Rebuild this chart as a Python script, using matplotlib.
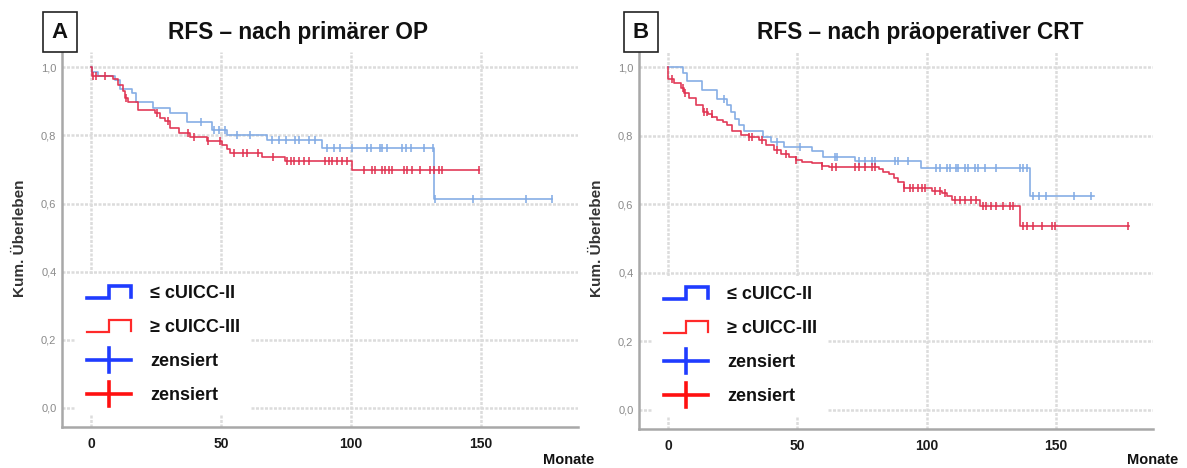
import numpy as np
import matplotlib
matplotlib.use("Agg")
import matplotlib.pyplot as plt
from matplotlib.lines import Line2D
from matplotlib.legend_handler import HandlerBase
from matplotlib.ticker import FuncFormatter

plt.rcParams['font.family'] = ['Liberation Sans', 'DejaVu Sans']

# ---- panel A: nach primaerer OP ----
a_blue_t = [0.5, 2.8, 9.3, 11.2, 15.7, 17.4, 24, 30.5, 36.9, 46.5, 52.3, 67.7, 88.9, 132]
a_blue_s = [0.986, 0.976, 0.963, 0.935, 0.926, 0.898, 0.882, 0.867, 0.84, 0.815, 0.80, 0.786, 0.764, 0.612]
a_blue_end = 177.6
a_blue_cens = [42.4, 47.2, 49.3, 51.7, 56.2, 61.3, 69.6, 72.2, 75, 78.6, 79.9, 83.8, 86.4,
               90.9, 93.4, 96, 100.5, 106.3, 107.6, 111.4, 112.1, 114, 119.8, 121.1, 123,
               128.1, 131.5, 132.5, 147.1, 167.3, 177.6]

a_red_t = [0.3, 8.6, 10.5, 12.4, 13.1, 14.1, 18.2, 24.7, 26.6, 28.5, 30.5, 33.7, 38.2,
           44.6, 50.4, 52.3, 53.6, 65.8, 74.8, 100.5]
a_red_s = [0.975, 0.965, 0.947, 0.93, 0.91, 0.898, 0.875, 0.867, 0.852, 0.842, 0.822, 0.808,
           0.796, 0.783, 0.771, 0.761, 0.749, 0.737, 0.724, 0.698]
a_red_end = 149.3
a_red_cens = [0.9, 1.8, 5.4, 13.5, 25.2, 29.6, 37.3, 39.5, 45.2, 49.6, 55.1, 58.6, 59.9, 64.4,
              70.2, 75.5, 77, 78, 79.9, 81.8, 83.8, 90.2, 91.5, 92.8, 94.7, 96.6, 98.6,
              105, 108.2, 109.5, 112.1, 113.3, 114.6, 115.9, 120.4, 121.7, 123.6, 126.8,
              130.7, 132, 133.9, 135.2, 149.3]

# ---- panel B: nach praeoperativer CRT ----
b_blue_t = [5.8, 7.5, 13, 18.8, 22.8, 24.3, 25.8, 27.3, 29.2, 36.6, 39.7, 44.8, 55.8, 59.8,
            72.4, 97.8, 139.8]
b_blue_s = [0.985, 0.96, 0.933, 0.908, 0.89, 0.87, 0.85, 0.832, 0.813, 0.796, 0.783, 0.769,
            0.757, 0.739, 0.726, 0.705, 0.625]
b_blue_end = 164.8
b_blue_cens = [21.7, 42.3, 51.2, 64.7, 65.3, 73.7, 76.2, 78.8, 80.1, 87.8, 89.1, 92.9, 103.8,
               105.1, 107.7, 109, 111.5, 112.2, 114.7, 116, 118.6, 119.9, 122.5, 127, 136,
               137.3, 138.6, 141.1, 143.6, 146.2, 157.1, 163.5]

b_red_t = [0.2, 2.4, 5, 6.3, 8.2, 10.8, 13.4, 15.3, 17.2, 19.1, 21.1, 23, 24.9, 28.1, 31.3,
           35.2, 37.8, 41, 43.6, 46.8, 49.4, 52, 55.8, 59.7, 62.2, 81.4, 83.3, 85.3, 87.2,
           89.1, 91.1, 102, 105.9, 107.8, 109.8, 120.6, 136.2]
b_red_s = [0.967, 0.955, 0.94, 0.925, 0.911, 0.891, 0.871, 0.864, 0.855, 0.847, 0.842, 0.832,
           0.813, 0.803, 0.796, 0.788, 0.774, 0.759, 0.747, 0.739, 0.731, 0.724, 0.72, 0.712,
           0.708, 0.702, 0.695, 0.688, 0.678, 0.666, 0.649, 0.639, 0.633, 0.624, 0.612,
           0.594, 0.538]
b_red_end = 178.2
b_red_cens = [1.5, 6, 6.5, 14, 15, 17, 31.3, 32.6, 36.5, 42.3, 45.6, 49.4, 59.7, 63.5, 64.8,
              72.4, 73.7, 76.2, 78.8, 80, 91.1, 93.6, 94.9, 96.8, 98.1, 99.4, 103.4, 105.3,
              107.1, 111, 113, 115, 117, 119, 121.8, 123.1, 125, 127, 129.5, 132.1, 133.4,
              137.3, 138.6, 141.1, 144.4, 148.3, 149.5, 177.7]

titles = ["RFS \u2013 nach primärer OP", "RFS \u2013 nach präoperativer CRT"]
panel_letters = ["A", "B"]
legend_labels = ["\u2264 cUICC-II", "\u2265 cUICC-III", "zensiert", "zensiert"]
y_ticks = [0.0, 0.2, 0.4, 0.6, 0.8, 1.0]
x_ticks = [0, 50, 100, 150]

BLUE = "#80aae4"
RED = "#e0304f"


class StepHandler(HandlerBase):
    def create_artists(self, legend, orig_handle, xdescent, ydescent, width, height, fontsize, trans):
        x0, y0 = -xdescent, -ydescent
        xs = [x0, x0 + 0.5 * width, x0 + 0.5 * width, x0 + width, x0 + width]
        ys = [y0, y0, y0 + height, y0 + height, y0 + 0.05 * height]
        ln = Line2D(xs, ys, color=orig_handle.get_color(), lw=orig_handle.get_linewidth(),
                    transform=trans, solid_joinstyle='miter')
        return [ln]


class CrossHandler(HandlerBase):
    def create_artists(self, legend, orig_handle, xdescent, ydescent, width, height, fontsize, trans):
        x0, y0 = -xdescent, -ydescent
        c = orig_handle.get_color()
        lw = orig_handle.get_linewidth()
        h = Line2D([x0, x0 + width], [y0 + height / 2] * 2, color=c, lw=lw, transform=trans)
        v = Line2D([x0 + width / 2] * 2, [y0 - 0.55 * height, y0 + 1.55 * height], color=c,
                   lw=lw, transform=trans)
        return [h, v]


def draw_km(ax, t, s, end, cens, color):
    x = np.concatenate([[0], t, [end]])
    y = np.concatenate([[1.0], s, [s[-1]]])
    ax.step(x, y, where='post', color=color, lw=1.2, alpha=0.95, zorder=3)
    levels = np.concatenate([[1.0], s])
    cy = levels[np.searchsorted(t, cens, side='right')]
    ax.plot(cens, cy, ls='none', marker='|', ms=6, mew=1.1, color=color, zorder=4)


fig = plt.figure(figsize=(11.87, 4.68), dpi=100)
W, H = 1187, 468
axA = fig.add_axes([62 / W, 1 - 427 / H, (578 - 62) / W, (427 - 52) / H])
axB = fig.add_axes([639 / W, 1 - 429 / H, (1153 - 639) / W, (429 - 52) / H])

draw_km(axA, a_blue_t, a_blue_s, a_blue_end, a_blue_cens, BLUE)
draw_km(axA, a_red_t, a_red_s, a_red_end, a_red_cens, RED)
draw_km(axB, b_blue_t, b_blue_s, b_blue_end, b_blue_cens, BLUE)
draw_km(axB, b_red_t, b_red_s, b_red_end, b_red_cens, RED)

title_x = [298, 920]
letter_x = [60, 641]
ylabel_x = [20, 597]
monate_x = [594, 1178]

for i, ax in enumerate([axA, axB]):
    ax.set_xlim(-11.2, 187.5)
    ax.set_ylim(-0.056, 1.045)
    ax.set_xticks(x_ticks)
    ax.set_yticks(y_ticks)
    ax.yaxis.set_major_formatter(FuncFormatter(lambda v, p: f"{v:.1f}".replace(".", ",")))
    ax.tick_params(length=0)
    ax.tick_params(axis='y', labelsize=8, labelcolor='#8a8a8a', pad=4)
    ax.tick_params(axis='x', labelsize=10, labelcolor='#1a1a1a', pad=7)
    for lab in ax.get_xticklabels():
        lab.set_fontweight('bold')
    ax.grid(True, color='#dcdcdc', lw=1.8, ls=(0, (1.2, 0.6)))
    ax.set_axisbelow(True)
    for sp in ['top', 'right']:
        ax.spines[sp].set_visible(False)
    for sp in ['left', 'bottom']:
        ax.spines[sp].set_color('#a8a8a8')
        ax.spines[sp].set_linewidth(1.8)

    handles = [Line2D([], [], color='#1f3cff', lw=2.6),
               Line2D([], [], color='#ff2a2a', lw=1.6),
               Line2D([], [], color='#1f3cff', lw=2.6),
               Line2D([], [], color='#ff1010', lw=2.6)]
    hmap = {handles[0]: StepHandler(), handles[1]: StepHandler(),
            handles[2]: CrossHandler(), handles[3]: CrossHandler()}
    leg = ax.legend(handles, legend_labels, handler_map=hmap, loc='upper left',
                    bbox_to_anchor=(0.027, 0.407), borderaxespad=0, fontsize=13,
                    handlelength=2.45, handleheight=0.6, handletextpad=1.05,
                    labelspacing=0.94, borderpad=0.6, frameon=True, fancybox=False)
    leg.get_frame().set_facecolor('white')
    leg.get_frame().set_edgecolor('none')
    leg.get_frame().set_alpha(1)
    leg.set_zorder(5)
    for txt in leg.get_texts():
        txt.set_color('#111111')
        txt.set_fontweight('bold')

    fig.text(title_x[i] / W, 1 - 33 / H, titles[i], ha='center', va='center',
             fontsize=16.3, fontweight='bold', color='#111111')
    fig.text(letter_x[i] / W, 1 - 32 / H, panel_letters[i], ha='center', va='center',
             fontsize=16, fontweight='bold', color='#111111',
             bbox=dict(boxstyle='square,pad=0.42', fc='white', ec='#222222', lw=1.2))
    fig.text(ylabel_x[i] / W, 1 - 238 / H, "Kum. Überleben", rotation=90, ha='center',
             va='center', fontsize=11, fontweight='bold', color='#333333')
    fig.text(monate_x[i] / W, 1 - 460 / H, "Monate", ha='right', va='center',
             fontsize=10.5, fontweight='bold', color='#111111')

fig.savefig("out.png", dpi=100)
